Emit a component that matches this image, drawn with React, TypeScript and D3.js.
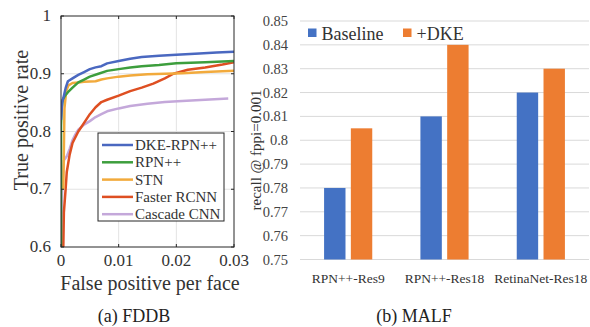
import React from "react";
import * as d3 from "d3";

// ---- FDDB ROC curves (false positives per face vs true positive rate)
const rocNames = ["DKE-RPN++", "RPN++", "STN", "Faster RCNN", "Cascade CNN"];
const rocColors = ["#4a68c0", "#3d9e3d", "#f2aa3c", "#de4f22", "#c4a8da"];

const dkeFp = [0, 0.0002, 0.0005, 0.0008, 0.0012, 0.002, 0.003, 0.004, 0.005, 0.006, 0.007, 0.008, 0.01, 0.012, 0.014, 0.017, 0.02, 0.024, 0.027, 0.03];
const dkeTpr = [0.82, 0.85, 0.862, 0.875, 0.887, 0.892, 0.898, 0.903, 0.908, 0.911, 0.913, 0.918, 0.922, 0.926, 0.929, 0.931, 0.933, 0.935, 0.937, 0.938];

const rpnFp = [0, 0, 0.0001, 0.0003, 0.0007, 0.0012, 0.002, 0.003, 0.004, 0.005, 0.0065, 0.008, 0.01, 0.012, 0.014, 0.017, 0.02, 0.025, 0.03];
const rpnTpr = [0.6, 0.81, 0.84, 0.855, 0.862, 0.868, 0.876, 0.885, 0.89, 0.895, 0.9, 0.905, 0.908, 0.911, 0.913, 0.915, 0.918, 0.92, 0.922];

const stnFp = [0.0004, 0.0006, 0.0009, 0.0013, 0.002, 0.003, 0.004, 0.006, 0.007, 0.008, 0.01, 0.012, 0.015, 0.018, 0.021, 0.025, 0.03];
const stnTpr = [0.7, 0.84, 0.87, 0.88, 0.884, 0.885, 0.886, 0.887, 0.89, 0.892, 0.895, 0.897, 0.899, 0.9, 0.901, 0.903, 0.905];

const frcnnFp = [0.0004, 0.0005, 0.0008, 0.001, 0.0015, 0.002, 0.003, 0.004, 0.005, 0.006, 0.007, 0.008, 0.01, 0.012, 0.014, 0.016, 0.018, 0.0195, 0.022, 0.025, 0.028, 0.03];
const frcnnTpr = [0.6, 0.66, 0.7, 0.73, 0.76, 0.78, 0.8, 0.815, 0.83, 0.842, 0.851, 0.855, 0.862, 0.87, 0.876, 0.883, 0.892, 0.9, 0.907, 0.911, 0.916, 0.92];

const cascadeFp = [0.0001, 0.0002, 0.0005, 0.001, 0.0015, 0.002, 0.0025, 0.003, 0.004, 0.005, 0.006, 0.007, 0.008, 0.01, 0.012, 0.015, 0.018, 0.021, 0.025, 0.029];
const cascadeTpr = [0.6, 0.7, 0.75, 0.757, 0.77, 0.785, 0.795, 0.803, 0.812, 0.818, 0.825, 0.83, 0.835, 0.84, 0.844, 0.848, 0.851, 0.853, 0.855, 0.857];

const rocFp = [dkeFp, rpnFp, stnFp, frcnnFp, cascadeFp];
const rocTpr = [dkeTpr, rpnTpr, stnTpr, frcnnTpr, cascadeTpr];

const rocXTicks = [0, 0.01, 0.02, 0.03];
const rocYTicks = [0.6, 0.7, 0.8, 0.9, 1];

// ---- MALF bar chart
const malfCategories = ["RPN++-Res9", "RPN++-Res18", "RetinaNet-Res18"];
const malfSeries = ["Baseline", "+DKE"];
const baselineRecall = [0.78, 0.81, 0.82];
const dkeRecall = [0.805, 0.84, 0.83];
const malfColors = ["#4472c4", "#ed7d31"];
const malfYTicks = [0.75, 0.76, 0.77, 0.78, 0.79, 0.8, 0.81, 0.82, 0.83, 0.84, 0.85];

const FONT = "Liberation Serif, Times New Roman, Times, serif";
const txt = { fontFamily: FONT };

const RocChart: React.FC = () => {
  const x = d3.scaleLinear().domain([0, 0.03]).range([61, 234]);
  const y = d3.scaleLinear().domain([0.6, 1]).range([247, 16]);
  const line = d3
    .line<[number, number]>()
    .x((d) => x(d[0]))
    .y((d) => y(d[1]));

  return (
    <g>
      <defs>
        <clipPath id="rocClip">
          <rect x={61} y={16} width={173} height={231} />
        </clipPath>
      </defs>
      {rocXTicks.slice(1, -1).map((t) => (
        <line key={"gx" + t} x1={x(t)} x2={x(t)} y1={16} y2={247} stroke="#e3e3e3" strokeWidth={1} />
      ))}
      {rocYTicks.slice(1, -1).map((t) => (
        <line key={"gy" + t} x1={61} x2={234} y1={y(t)} y2={y(t)} stroke="#e3e3e3" strokeWidth={1} />
      ))}
      <g clipPath="url(#rocClip)">
        {rocNames.map((n, i) => {
          const pts = rocFp[i].map((f, j) => [f, rocTpr[i][j]] as [number, number]);
          return (
            <path key={n} d={line(pts) || ""} fill="none" stroke={rocColors[i]} strokeWidth={2.5} strokeLinejoin="round" />
          );
        }).reverse()}
      </g>
      <rect x={61} y={16} width={173} height={231} fill="none" stroke="#262626" strokeWidth={1} />
      {rocXTicks.map((t) => (
        <g key={"tx" + t}>
          <line x1={x(t)} x2={x(t)} y1={247} y2={244} stroke="#262626" />
          <line x1={x(t)} x2={x(t)} y1={16} y2={19} stroke="#262626" />
          <text x={x(t)} y={266} textAnchor="middle" fontSize={17} fill="#333" style={txt}>
            {t === 0 ? "0" : String(t)}
          </text>
        </g>
      ))}
      {rocYTicks.map((t) => (
        <g key={"ty" + t}>
          <line x1={61} x2={64} y1={y(t)} y2={y(t)} stroke="#262626" />
          <line x1={234} x2={231} y1={y(t)} y2={y(t)} stroke="#262626" />
          <text x={51} y={y(t) + 5} textAnchor="end" fontSize={17} fill="#333" style={txt}>
            {t === 1 ? "1" : String(t)}
          </text>
        </g>
      ))}
      <text x={150} y={290} textAnchor="middle" fontSize={20} fill="#333" style={txt}>
        False positive per face
      </text>
      <text transform="translate(28,120) rotate(-90)" textAnchor="middle" fontSize={20} fill="#333" style={txt}>
        True positive rate
      </text>
      <rect x={98} y={133} width={126} height={88} fill="#fff" stroke="#262626" strokeWidth={1} />
      {rocNames.map((n, i) => {
        const ly = 145 + i * 17.3;
        return (
          <g key={"lg" + n}>
            <line x1={102} x2={133} y1={ly} y2={ly} stroke={rocColors[i]} strokeWidth={2.5} />
            <text x={135} y={ly + 5} fontSize={15} fill="#333" style={txt}>
              {n}
            </text>
          </g>
        );
      })}
      <text x={134} y={322} textAnchor="middle" fontSize={18} fill="#222" style={txt}>
        (a) FDDB
      </text>
    </g>
  );
};

const MalfChart: React.FC = () => {
  const x0 = d3.scaleBand<string>().domain(malfCategories).range([300, 589]).paddingInner(0.5).paddingOuter(0.25);
  const x1 = d3.scaleBand<string>().domain(malfSeries).range([0, x0.bandwidth()]).paddingInner(0.2);
  const y = d3.scaleLinear().domain([0.75, 0.85]).range([259.5, 21]);
  const values = [baselineRecall, dkeRecall];

  return (
    <g>
      {malfYTicks.map((t) => (
        <g key={"gy" + t}>
          <line x1={300} x2={589} y1={y(t)} y2={y(t)} stroke="#d9d9d9" strokeWidth={1} />
          <text x={288} y={y(t) + 5} textAnchor="end" fontSize={14.5} fill="#444" style={txt}>
            {d3.format("")(t)}
          </text>
        </g>
      ))}
      {malfCategories.map((c, ci) => (
        <g key={c}>
          {malfSeries.map((s, si) => (
            <rect
              key={s}
              x={(x0(c) || 0) + (x1(s) || 0)}
              y={y(values[si][ci])}
              width={x1.bandwidth()}
              height={y(0.75) - y(values[si][ci])}
              fill={malfColors[si]}
            />
          ))}
          <text x={(x0(c) || 0) + x0.bandwidth() / 2} y={283} textAnchor="middle" fontSize={13.5} fill="#333" style={txt}>
            {c}
          </text>
        </g>
      ))}
      <text transform="translate(261,150) rotate(-90)" textAnchor="middle" fontSize={15} fill="#333" style={txt}>
        recall @ fppi=0.001
      </text>
      {malfSeries.map((s, si) => {
        const lx = si === 0 ? 308 : 403;
        return (
          <g key={"lg" + s}>
            <rect x={lx} y={28.5} width={8.5} height={8.5} fill={malfColors[si]} />
            <text x={lx + 13.5} y={39.5} fontSize={18} fill="#333" style={txt}>
              {s}
            </text>
          </g>
        );
      })}
      <text x={414} y={322} textAnchor="middle" fontSize={18} fill="#222" style={txt}>
        (b) MALF
      </text>
    </g>
  );
};

const App: React.FC = () => {
  return (
    <svg
      width={590}
      height={327}
      style={{ position: "absolute", left: 0, top: 0, background: "#fff" }}
    >
      <rect width={590} height={327} fill="#fff" />
      <RocChart />
      <MalfChart />
    </svg>
  );
};

export default App;
